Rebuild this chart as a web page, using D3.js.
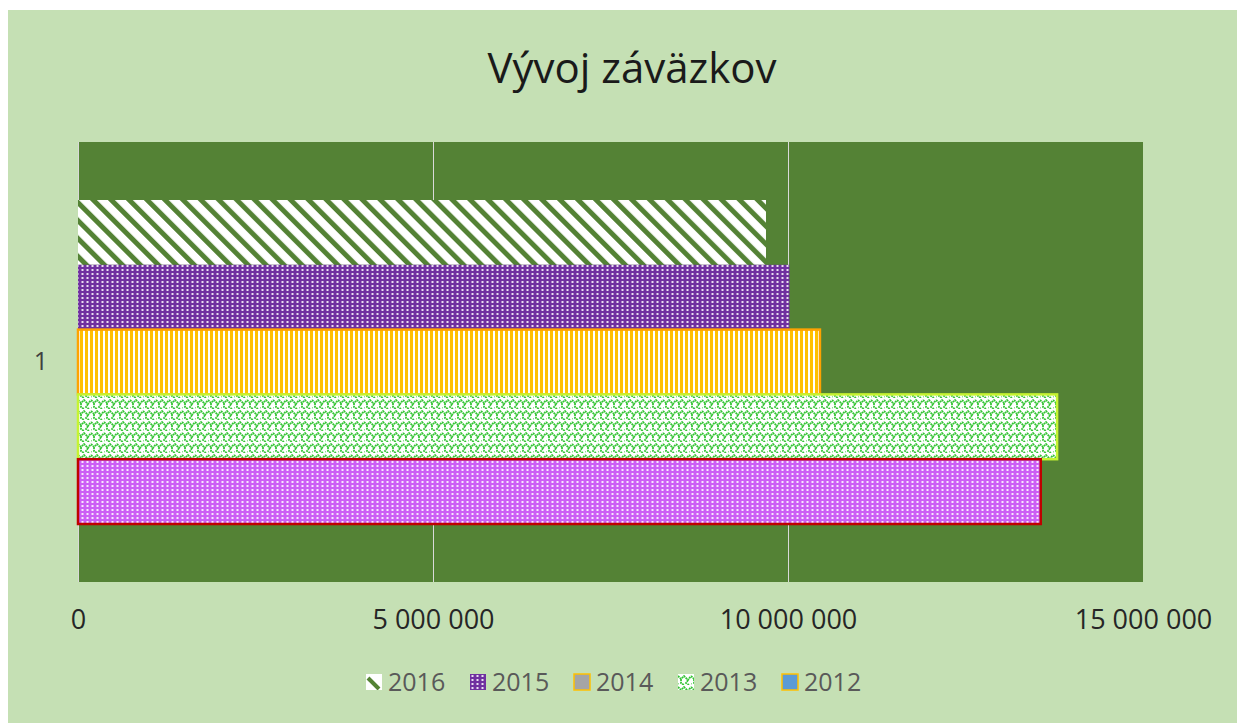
<!DOCTYPE html>
<html>
<head>
<meta charset="utf-8">
<script src="https://cdn.jsdelivr.net/npm/d3@7"></script>
<style>
  body { margin: 0; background: #fff; }
  svg text { font-family: "Open Sans", sans-serif; }
</style>
</head>
<body>
<div id="chart"></div>
<script>
// chart data
const categories = ['1'];
const years = ['2016', '2015', '2014', '2013', '2012'];
const values = [9690000, 10020000, 10450000, 13790000, 13560000];
const legendYears = ['2016', '2015', '2014', '2013', '2012'];
const tickValues = [0, 5000000, 10000000, 15000000];

const width = 1243;
const height = 723;
const margin = { top: 142, right: 100, bottom: 141, left: 78 };

const svg = d3.select('#chart')
    .append('svg')
    .attr('width', width)
    .attr('height', height);

svg.append('rect')
    .attr('x', 8).attr('y', 10)
    .attr('width', 1229).attr('height', 713)
    .attr('fill', '#c5e0b4');

// patterns
const defs = svg.append('defs');

const diag = defs.append('pattern')
    .attr('id', 'p2016')
    .attr('patternUnits', 'userSpaceOnUse')
    .attr('width', 12.7).attr('height', 12.7)
    .attr('patternTransform', 'rotate(-45)');
diag.append('rect').attr('width', 12.7).attr('height', 12.7).attr('fill', '#fff');
diag.append('rect').attr('width', 5).attr('height', 12.7).attr('fill', '#548235');

function dotPattern(id, color) {
    const p = defs.append('pattern')
        .attr('id', id)
        .attr('patternUnits', 'userSpaceOnUse')
        .attr('width', 5).attr('height', 4);
    p.append('rect').attr('width', 5).attr('height', 4).attr('fill', color);
    p.append('rect').attr('x', 1.5).attr('y', 1).attr('width', 2).attr('height', 2)
        .attr('fill', '#fff').attr('opacity', 0.85);
}
dotPattern('p2015', '#7030a0');
dotPattern('p2012', '#cc5ef5');

const vert = defs.append('pattern')
    .attr('id', 'p2014')
    .attr('patternUnits', 'userSpaceOnUse')
    .attr('width', 5).attr('height', 5);
vert.append('rect').attr('width', 5).attr('height', 5).attr('fill', '#fff');
vert.append('rect').attr('width', 3).attr('height', 5).attr('fill', '#ffc000');

const weave = defs.append('pattern')
    .attr('id', 'p2013')
    .attr('patternUnits', 'userSpaceOnUse')
    .attr('width', 13).attr('height', 11);
weave.append('rect').attr('width', 13).attr('height', 11).attr('fill', '#fff');
weave.append('path')
    .attr('d', 'M0,2 L3,5 L6,2 L10,6 L13,2 M3,5 L3,9 L6,11 M10,6 L8,9 L11,11 M0,9 L-1,11')
    .attr('fill', 'none')
    .attr('stroke', '#33c433')
    .attr('stroke-width', 1.8)
    .attr('stroke-dasharray', '2 0.7');

const legendDiag = defs.append('pattern')
    .attr('id', 'l2016')
    .attr('patternUnits', 'objectBoundingBox')
    .attr('width', 1).attr('height', 1);
legendDiag.append('rect').attr('width', 16).attr('height', 16).attr('fill', '#fff');
legendDiag.append('path').attr('d', 'M2,4 L13,15').attr('stroke', '#548235').attr('stroke-width', 4);

const fills = {
    '2016': 'url(#p2016)',
    '2015': 'url(#p2015)',
    '2014': 'url(#p2014)',
    '2013': 'url(#p2013)',
    '2012': 'url(#p2012)'
};
const strokes = {
    '2016': 'none',
    '2015': 'none',
    '2014': '#ffa200',
    '2013': '#c6f432',
    '2012': '#c00000'
};

// scales
const x = d3.scaleLinear()
    .domain([0, 15000000])
    .range([margin.left, width - margin.right]);

const y = d3.scaleBand()
    .domain(categories)
    .range([margin.top, height - margin.bottom])
    .paddingInner(0)
    .paddingOuter(0.179);

const ySub = d3.scaleBand()
    .domain(years)
    .range([0, y.bandwidth()])
    .padding(0);

// plot area
svg.append('rect')
    .attr('x', x(0))
    .attr('y', margin.top)
    .attr('width', x(15000000) - x(0))
    .attr('height', height - margin.bottom - margin.top)
    .attr('fill', '#548235');

svg.append('g')
    .selectAll('line')
    .data(tickValues.slice(0, 3))
    .enter()
    .append('line')
    .attr('x1', d => x(d) + 0.5)
    .attr('x2', d => x(d) + 0.5)
    .attr('y1', margin.top)
    .attr('y2', height - margin.bottom)
    .attr('stroke', '#d9d9d9')
    .attr('stroke-width', 1);

// bars
const data = years.map((yr, i) => ({ year: yr, value: values[i] }));

svg.append('g')
    .attr('transform', `translate(0, ${y('1')})`)
    .selectAll('rect')
    .data(data)
    .enter()
    .append('rect')
    .attr('x', x(0))
    .attr('y', d => ySub(d.year))
    .attr('width', d => x(d.value) - x(0))
    .attr('height', ySub.bandwidth())
    .attr('fill', d => fills[d.year])
    .attr('stroke', d => strokes[d.year])
    .attr('stroke-width', 2.5);

// axes
const fmt = d3.formatLocale({ decimal: ',', thousands: ' ', grouping: [3], currency: ['', ' €'] }).format(',');

const xAxis = d3.axisBottom(x)
    .tickValues(tickValues)
    .tickSize(0)
    .tickPadding(0)
    .tickFormat(fmt);

svg.append('g')
    .attr('transform', `translate(0, ${height - margin.bottom + 28})`)
    .call(xAxis)
    .call(g => g.select('.domain').remove())
    .selectAll('text')
    .attr('font-size', 27)
    .attr('fill', '#262626')
    .style('font-family', '"Open Sans", sans-serif');

const yAxis = d3.axisLeft(y).tickSize(0).tickPadding(30);
svg.append('g')
    .attr('transform', `translate(${x(0)}, 0)`)
    .call(yAxis)
    .call(g => g.select('.domain').remove())
    .selectAll('text')
    .attr('font-size', 25)
    .attr('fill', '#404040')
    .style('font-family', '"Open Sans", sans-serif');

// title
svg.append('text')
    .attr('x', 632)
    .attr('y', 83)
    .attr('text-anchor', 'middle')
    .attr('font-size', 42)
    .attr('fill', '#1a1a1a')
    .text('Vývoj záväzkov');

// legend
const legendFills = {
    '2016': 'url(#l2016)',
    '2015': 'url(#p2015)',
    '2014': '#a5a5a5',
    '2013': 'url(#p2013)',
    '2012': '#5b9bd5'
};
const legendStrokes = {
    '2016': 'none',
    '2015': 'none',
    '2014': '#ffc000',
    '2013': 'none',
    '2012': '#ffc000'
};

const legend = svg.append('g')
    .selectAll('g')
    .data(legendYears)
    .enter()
    .append('g')
    .attr('transform', (d, i) => `translate(${366 + i * 104}, 674)`);

legend.append('rect')
    .attr('width', 16)
    .attr('height', 16)
    .attr('fill', d => legendFills[d])
    .attr('stroke', d => legendStrokes[d])
    .attr('stroke-width', 1.5);

legend.append('text')
    .attr('x', 22)
    .attr('y', 17)
    .attr('font-size', 25)
    .attr('fill', '#595959')
    .text(d => d);
</script>
</body>
</html>
